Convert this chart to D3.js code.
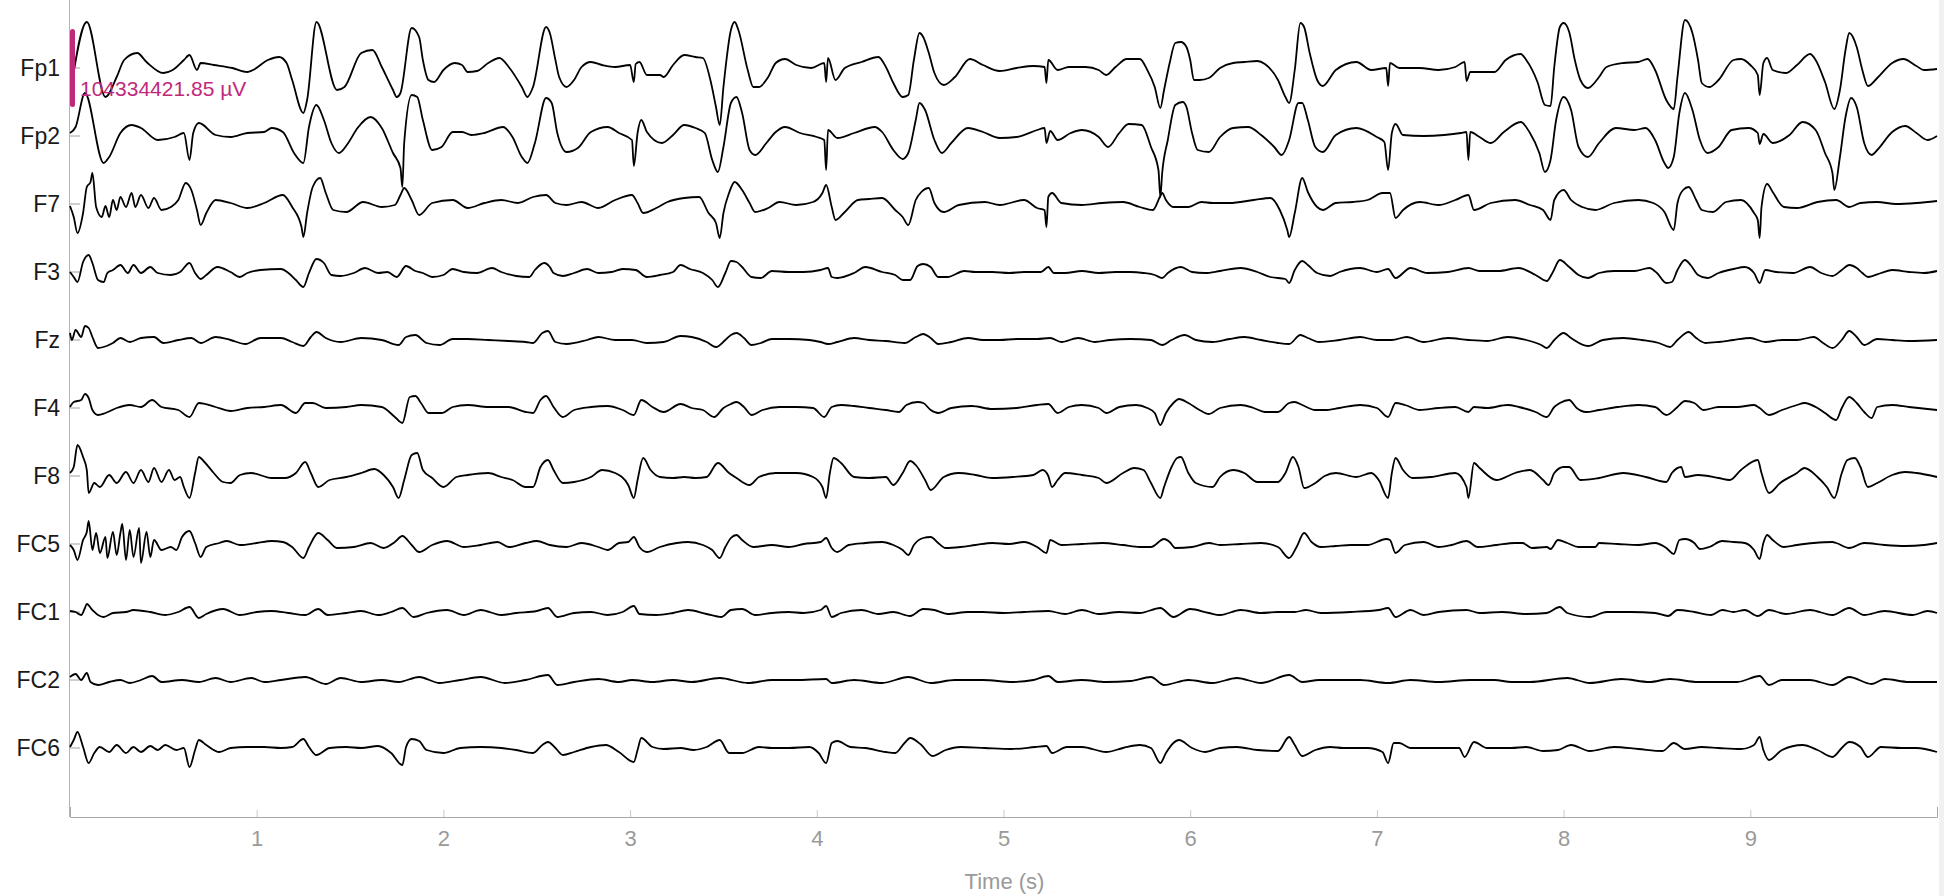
<!DOCTYPE html>
<html>
<head>
<meta charset="utf-8">
<script src="https://cdn.jsdelivr.net/npm/d3@7"></script>
<style>
  html, body { margin: 0; padding: 0; background: #fff; }
  svg { display: block; font-family: "Liberation Sans", Arial, sans-serif; }
</style>
</head>
<body>
<svg id="svg" width="1944" height="896"></svg>
<script>
// channel names, top to bottom
var channels = ["Fp1", "Fp2", "F7", "F3", "Fz", "F4", "F8", "FC5", "FC1", "FC2", "FC6"];

// time axis ticks (s)
var timeTicks = [1, 2, 3, 4, 5, 6, 7, 8, 9];

// scale bar value shown on the plot
var scaleBarLabel = "104334421.85 \u00b5V";
var scaleBarUnits = 78;

// samples per channel: [time (s), amplitude (display units, up positive)]
var fp1 = [[0.01,-15],[0.09,46],[0.19,-29],[0.25,-9],[0.29,8],[0.36,15],[0.41,6],[0.50,-5],[0.55,-2],[0.61,8],[0.64,13],[0.68,-2],[0.70,5],[0.77,3],[0.87,0],[0.95,-4],[0.98,-2],[1.06,8],[1.12,11],[1.16,5],[1.19,-12],[1.25,-45],[1.27,-32],[1.32,46],[1.43,-22],[1.47,-19],[1.56,15],[1.62,18],[1.67,1],[1.73,-22],[1.75,-29],[1.77,-25],[1.83,40],[1.87,31],[1.89,8],[1.92,-12],[1.95,-14],[2.0,-2],[2.06,5],[2.10,3],[2.13,-4],[2.18,-3],[2.24,5],[2.30,10],[2.35,1],[2.42,-19],[2.45,-29],[2.48,-19],[2.55,41],[2.57,35],[2.60,8],[2.62,-9],[2.66,-19],[2.70,-12],[2.74,1],[2.79,6],[2.85,3],[2.92,1],[3.00,3],[3.02,-14],[3.03,4],[3.05,6],[3.09,-7],[3.16,-7],[3.18,-9],[3.23,3],[3.29,13],[3.35,11],[3.39,10],[3.43,-12],[3.46,-39],[3.48,-57],[3.50,-19],[3.54,38],[3.56,46],[3.58,38],[3.63,-2],[3.66,-19],[3.69,-19],[3.74,-9],[3.78,5],[3.83,9],[3.89,3],[3.97,0],[4.04,5],[4.05,-14],[4.06,10],[4.10,-12],[4.15,0],[4.24,6],[4.33,11],[4.37,1],[4.41,-15],[4.46,-29],[4.49,-27],[4.52,8],[4.55,35],[4.57,31],[4.60,15],[4.63,-5],[4.68,-17],[4.74,-9],[4.82,9],[4.89,3],[4.98,-3],[5.07,0],[5.16,2],[5.22,1],[5.23,-15],[5.24,8],[5.29,-2],[5.35,1],[5.44,1],[5.51,-2],[5.55,-7],[5.60,1],[5.66,9],[5.73,9],[5.77,-2],[5.81,-19],[5.84,-40],[5.86,-22],[5.89,5],[5.92,25],[5.95,26],[5.98,21],[6.00,8],[6.02,-12],[6.05,-12],[6.10,-10],[6.16,0],[6.23,5],[6.29,6],[6.36,7],[6.40,4],[6.47,-12],[6.51,-29],[6.53,-35],[6.56,-2],[6.59,45],[6.61,41],[6.64,15],[6.68,-12],[6.71,-18],[6.78,-2],[6.89,6],[6.97,-2],[7.05,0],[7.06,-18],[7.07,5],[7.12,0],[7.23,0],[7.33,-2],[7.42,1],[7.47,6],[7.48,-13],[7.50,-4],[7.63,-4],[7.69,8],[7.77,14],[7.80,8],[7.86,-14],[7.90,-37],[7.93,-38],[7.95,1],[7.98,41],[8.00,45],[8.03,36],[8.06,8],[8.09,-12],[8.13,-20],[8.19,-9],[8.23,1],[8.32,5],[8.40,6],[8.45,9],[8.49,-2],[8.55,-32],[8.59,-41],[8.61,-9],[8.65,48],[8.69,35],[8.72,8],[8.74,-15],[8.78,-19],[8.83,-12],[8.91,8],[8.95,9],[9.00,3],[9.04,-7],[9.05,-27],[9.07,5],[9.09,10],[9.12,-2],[9.19,-5],[9.25,3],[9.32,14],[9.35,8],[9.40,-14],[9.45,-41],[9.48,-22],[9.51,18],[9.53,35],[9.57,21],[9.60,-2],[9.63,-18],[9.68,-10],[9.76,5],[9.82,9],[9.89,2],[9.93,-2],[10.0,-1]];

var fp2 = [[0.0,3],[0.03,9],[0.08,43],[0.18,-27],[0.21,-21],[0.27,3],[0.33,11],[0.38,8],[0.47,-4],[0.56,-1],[0.61,3],[0.64,-24],[0.66,3],[0.69,13],[0.78,1],[0.86,-1],[0.95,3],[1.04,4],[1.08,8],[1.14,4],[1.20,-17],[1.25,-27],[1.28,9],[1.32,31],[1.36,16],[1.40,-7],[1.44,-17],[1.49,-7],[1.54,8],[1.61,19],[1.67,8],[1.73,-17],[1.77,-32],[1.78,-51],[1.79,-7],[1.83,41],[1.86,39],[1.89,16],[1.94,-14],[1.99,-11],[2.05,4],[2.10,4],[2.15,1],[2.22,3],[2.32,9],[2.37,-1],[2.42,-21],[2.45,-27],[2.49,-7],[2.55,38],[2.58,33],[2.61,3],[2.66,-16],[2.72,-12],[2.79,4],[2.88,9],[2.94,3],[3.01,-4],[3.02,-30],[3.04,3],[3.06,16],[3.09,4],[3.17,-7],[3.23,1],[3.29,11],[3.35,8],[3.40,3],[3.44,-24],[3.47,-36],[3.50,-11],[3.54,33],[3.57,39],[3.60,23],[3.64,-14],[3.67,-19],[3.73,-7],[3.78,4],[3.83,9],[3.91,3],[4.00,-1],[4.04,-4],[4.05,-34],[4.06,6],[4.11,-2],[4.20,3],[4.31,9],[4.35,4],[4.41,-14],[4.46,-23],[4.49,-17],[4.53,16],[4.55,33],[4.58,26],[4.63,-4],[4.67,-17],[4.72,-7],[4.81,8],[4.89,4],[4.98,-2],[5.07,-1],[5.18,6],[5.22,8],[5.23,-7],[5.25,5],[5.29,-4],[5.36,3],[5.42,6],[5.51,-1],[5.56,-11],[5.62,3],[5.67,12],[5.74,11],[5.79,-11],[5.83,-34],[5.84,-61],[5.85,-37],[5.88,-4],[5.92,31],[5.96,34],[5.98,29],[6.01,3],[6.04,-14],[6.10,-16],[6.16,-1],[6.23,8],[6.31,9],[6.38,1],[6.45,-11],[6.49,-19],[6.53,-4],[6.58,33],[6.60,33],[6.63,16],[6.67,-11],[6.71,-16],[6.78,1],[6.89,8],[7.00,-1],[7.04,-6],[7.06,-34],[7.08,3],[7.10,12],[7.14,1],[7.25,0],[7.36,1],[7.45,3],[7.48,4],[7.49,-24],[7.50,4],[7.55,-1],[7.61,-7],[7.68,4],[7.77,14],[7.82,3],[7.87,-17],[7.90,-36],[7.93,-24],[7.96,16],[8.00,39],[8.04,26],[8.08,-11],[8.13,-21],[8.19,-7],[8.28,8],[8.38,6],[8.44,8],[8.49,-4],[8.54,-27],[8.56,-32],[8.59,-21],[8.62,23],[8.65,43],[8.69,26],[8.73,-4],[8.77,-17],[8.83,-11],[8.90,6],[8.99,8],[9.04,3],[9.05,-8],[9.07,2],[9.12,-7],[9.21,1],[9.28,14],[9.35,6],[9.40,-17],[9.44,-37],[9.45,-54],[9.48,-21],[9.51,19],[9.54,38],[9.57,29],[9.61,-7],[9.65,-19],[9.68,-14],[9.76,4],[9.83,10],[9.89,3],[9.95,-4],[10.0,0]];

var f7 = [[0.0,-2],[0.02,-13],[0.04,-29],[0.07,-9],[0.09,17],[0.11,22],[0.12,31],[0.14,-3],[0.17,-13],[0.19,-2],[0.21,-13],[0.23,4],[0.25,-6],[0.27,7],[0.30,-3],[0.33,11],[0.35,-3],[0.38,9],[0.42,-4],[0.45,6],[0.49,-6],[0.54,-3],[0.58,4],[0.62,21],[0.65,14],[0.68,-6],[0.70,-21],[0.73,-9],[0.78,4],[0.86,1],[0.95,-4],[1.04,1],[1.14,9],[1.19,-3],[1.24,-23],[1.25,-33],[1.27,-9],[1.30,17],[1.34,26],[1.37,11],[1.41,-6],[1.48,-8],[1.57,2],[1.67,-3],[1.74,-1],[1.77,9],[1.79,16],[1.83,4],[1.87,-11],[1.94,1],[2.05,4],[2.13,-4],[2.22,1],[2.31,4],[2.40,1],[2.48,7],[2.55,9],[2.60,1],[2.66,-1],[2.74,2],[2.83,-4],[2.92,4],[3.01,9],[3.04,1],[3.07,-9],[3.14,-4],[3.20,2],[3.29,6],[3.37,7],[3.42,-9],[3.46,-19],[3.48,-34],[3.50,-9],[3.53,11],[3.56,22],[3.60,14],[3.64,1],[3.67,-8],[3.74,-4],[3.80,2],[3.89,-1],[3.98,2],[4.03,11],[4.05,19],[4.08,-3],[4.10,-16],[4.15,-8],[4.22,4],[4.28,5],[4.35,6],[4.42,-6],[4.46,-13],[4.49,-21],[4.53,4],[4.56,12],[4.60,16],[4.63,1],[4.68,-8],[4.76,-1],[4.90,2],[4.98,-1],[5.11,4],[5.18,-4],[5.22,-6],[5.23,-23],[5.24,7],[5.26,11],[5.31,1],[5.42,-1],[5.53,1],[5.64,2],[5.73,-3],[5.80,-6],[5.84,8],[5.85,11],[5.87,4],[5.91,-3],[5.99,-3],[6.06,2],[6.12,1],[6.21,1],[6.34,4],[6.43,6],[6.48,-6],[6.52,-26],[6.53,-33],[6.56,-9],[6.60,26],[6.63,12],[6.68,-3],[6.71,-6],[6.78,1],[6.87,2],[6.95,4],[7.03,11],[7.07,11],[7.10,-14],[7.14,-6],[7.23,2],[7.33,-1],[7.42,4],[7.49,9],[7.52,-6],[7.61,1],[7.74,4],[7.82,-1],[7.89,-6],[7.93,-16],[7.95,4],[8.00,14],[8.04,4],[8.10,-3],[8.17,-6],[8.27,1],[8.40,4],[8.48,1],[8.54,-8],[8.59,-26],[8.61,1],[8.64,14],[8.67,17],[8.71,4],[8.74,-6],[8.80,-8],[8.87,2],[8.95,4],[9.02,-9],[9.04,-16],[9.05,-34],[9.06,-3],[9.09,20],[9.12,12],[9.18,-3],[9.25,-4],[9.36,2],[9.46,4],[9.53,-3],[9.59,1],[9.68,2],[9.78,0],[9.89,1],[10.0,3]];

var f3 = [[0.0,0],[0.02,-5],[0.04,-10],[0.07,10],[0.10,17],[0.12,9],[0.15,-8],[0.18,-10],[0.20,-1],[0.23,2],[0.27,7],[0.31,-1],[0.34,7],[0.38,-1],[0.43,5],[0.47,-1],[0.54,-3],[0.59,0],[0.64,9],[0.67,-1],[0.70,-7],[0.73,-3],[0.79,5],[0.86,0],[0.91,-5],[0.95,-1],[1.02,2],[1.13,3],[1.17,-1],[1.21,-8],[1.25,-15],[1.28,-1],[1.32,13],[1.36,9],[1.40,-3],[1.45,-4],[1.52,-1],[1.58,4],[1.65,-1],[1.70,0],[1.75,-5],[1.80,6],[1.85,1],[1.89,-1],[1.94,-5],[2.00,-3],[2.05,3],[2.11,0],[2.18,-1],[2.26,4],[2.31,0],[2.39,-4],[2.46,-5],[2.49,2],[2.54,9],[2.57,5],[2.59,-1],[2.64,-4],[2.70,-1],[2.77,3],[2.83,-1],[2.90,0],[2.96,3],[3.03,2],[3.09,-5],[3.16,-3],[3.23,0],[3.27,7],[3.32,3],[3.39,-1],[3.44,-8],[3.47,-15],[3.51,-1],[3.54,11],[3.57,10],[3.60,5],[3.65,-5],[3.70,-6],[3.76,1],[3.85,0],[3.93,0],[4.02,2],[4.06,4],[4.08,-5],[4.11,-6],[4.20,-1],[4.26,5],[4.35,0],[4.42,-3],[4.46,-8],[4.50,-8],[4.54,6],[4.57,8],[4.61,5],[4.65,-5],[4.70,-5],[4.79,1],[4.85,0],[4.94,0],[5.03,-1],[5.11,0],[5.20,0],[5.24,5],[5.27,-1],[5.33,-1],[5.42,1],[5.51,-1],[5.60,0],[5.68,0],[5.75,-1],[5.81,-3],[5.85,-6],[5.88,-1],[5.95,5],[6.01,0],[6.08,-1],[6.16,1],[6.27,4],[6.36,0],[6.43,-5],[6.51,-7],[6.53,-11],[6.56,2],[6.60,11],[6.63,7],[6.68,-1],[6.75,-4],[6.80,0],[6.91,4],[7.00,0],[7.06,3],[7.10,-6],[7.18,4],[7.27,-1],[7.38,0],[7.49,4],[7.55,1],[7.65,1],[7.76,4],[7.85,-3],[7.91,-9],[7.94,-1],[7.98,12],[8.03,5],[8.08,-3],[8.13,-6],[8.19,-1],[8.27,1],[8.38,1],[8.46,4],[8.50,-1],[8.55,-11],[8.58,-10],[8.61,2],[8.65,12],[8.68,7],[8.72,-3],[8.77,-6],[8.83,-1],[8.91,3],[8.97,5],[9.02,-1],[9.05,-11],[9.08,2],[9.14,0],[9.23,-1],[9.32,5],[9.38,-1],[9.44,-4],[9.49,2],[9.53,7],[9.57,4],[9.60,-1],[9.63,-5],[9.70,-1],[9.76,2],[9.85,0],[9.93,-1],[10.0,1]];

var fz = [[0.0,7],[0.01,0],[0.03,10],[0.06,3],[0.08,14],[0.10,12],[0.12,3],[0.15,-8],[0.18,-7],[0.23,-3],[0.27,2],[0.32,-2],[0.38,2],[0.45,3],[0.50,-3],[0.58,0],[0.65,2],[0.70,-3],[0.78,3],[0.86,0],[0.94,-4],[1.02,2],[1.13,2],[1.19,-2],[1.25,-6],[1.29,3],[1.32,8],[1.37,2],[1.45,-2],[1.56,2],[1.67,0],[1.76,-5],[1.80,3],[1.85,5],[1.91,-3],[1.98,-5],[2.05,1],[2.13,1],[2.24,0],[2.35,-1],[2.44,-2],[2.48,-3],[2.53,7],[2.56,9],[2.60,-2],[2.66,-4],[2.77,0],[2.83,3],[2.92,0],[3.01,0],[3.09,-3],[3.18,-2],[3.27,4],[3.33,3],[3.41,-2],[3.46,-7],[3.51,0],[3.54,5],[3.57,7],[3.61,2],[3.65,-5],[3.70,-3],[3.76,1],[3.85,1],[3.96,0],[4.02,-2],[4.06,-4],[4.11,-2],[4.20,2],[4.28,0],[4.37,-1],[4.47,-3],[4.53,3],[4.57,6],[4.61,2],[4.65,-4],[4.72,-2],[4.81,2],[4.89,0],[4.98,0],[5.07,1],[5.18,1],[5.25,2],[5.31,-2],[5.40,2],[5.49,-2],[5.57,0],[5.68,1],[5.79,0],[5.85,-5],[5.90,0],[5.97,5],[6.03,0],[6.12,-2],[6.21,1],[6.29,3],[6.38,0],[6.47,-3],[6.53,-4],[6.59,5],[6.63,2],[6.69,-2],[6.80,0],[6.91,3],[7.00,0],[7.08,0],[7.16,3],[7.25,-2],[7.38,2],[7.49,0],[7.59,-1],[7.70,3],[7.80,0],[7.88,-5],[7.91,-8],[7.95,0],[8.00,7],[8.04,2],[8.13,-6],[8.21,0],[8.32,2],[8.42,0],[8.51,-3],[8.57,-7],[8.61,0],[8.67,8],[8.71,2],[8.76,-3],[8.83,-2],[8.91,0],[9.00,2],[9.08,-2],[9.17,0],[9.25,0],[9.34,3],[9.39,-3],[9.44,-8],[9.49,0],[9.53,9],[9.57,3],[9.61,-5],[9.68,1],[9.76,0],[9.85,-1],[10.0,0]];

var f4 = [[0.0,1],[0.02,6],[0.06,8],[0.08,14],[0.10,10],[0.12,-2],[0.15,-7],[0.19,-5],[0.25,0],[0.32,3],[0.38,1],[0.44,8],[0.49,1],[0.58,-2],[0.64,-9],[0.69,5],[0.78,1],[0.86,-3],[0.95,0],[1.04,1],[1.13,3],[1.21,-5],[1.26,5],[1.30,5],[1.37,0],[1.48,1],[1.56,3],[1.67,1],[1.74,-9],[1.78,-15],[1.82,11],[1.85,12],[1.88,5],[1.92,-5],[1.99,-5],[2.05,1],[2.13,3],[2.24,1],[2.35,1],[2.44,-4],[2.48,-5],[2.52,8],[2.55,12],[2.59,1],[2.64,-9],[2.70,-2],[2.79,1],[2.88,2],[2.96,-2],[3.02,-7],[3.06,8],[3.12,1],[3.18,-4],[3.27,4],[3.33,0],[3.39,-2],[3.45,-9],[3.50,0],[3.54,4],[3.57,6],[3.61,1],[3.65,-7],[3.71,-2],[3.80,1],[3.89,1],[3.98,0],[4.04,-9],[4.08,1],[4.13,3],[4.20,2],[4.28,0],[4.37,-2],[4.44,-4],[4.48,3],[4.54,6],[4.57,5],[4.61,-2],[4.65,-5],[4.72,0],[4.83,2],[4.94,-1],[5.07,0],[5.18,3],[5.24,4],[5.29,-5],[5.35,1],[5.42,3],[5.51,0],[5.55,-5],[5.62,1],[5.71,3],[5.77,0],[5.81,-5],[5.84,-17],[5.87,-5],[5.91,5],[5.94,9],[5.99,5],[6.05,-2],[6.10,-6],[6.16,0],[6.27,3],[6.34,0],[6.40,-4],[6.47,-4],[6.53,5],[6.56,6],[6.60,3],[6.67,-2],[6.72,-2],[6.80,0],[6.91,3],[7.00,0],[7.06,-9],[7.10,5],[7.15,3],[7.23,-2],[7.33,0],[7.42,1],[7.49,-4],[7.52,1],[7.59,0],[7.70,3],[7.76,1],[7.85,-4],[7.91,-9],[7.95,1],[7.98,5],[8.03,8],[8.07,0],[8.12,-4],[8.19,-2],[8.29,1],[8.40,3],[8.49,1],[8.55,-7],[8.61,1],[8.65,7],[8.70,5],[8.75,-2],[8.83,1],[8.93,1],[9.02,3],[9.05,0],[9.10,-7],[9.17,-2],[9.25,3],[9.29,5],[9.36,0],[9.40,-5],[9.46,-12],[9.49,0],[9.53,11],[9.57,5],[9.61,-4],[9.65,-10],[9.68,1],[9.76,3],[9.85,1],[10.0,-2]];

var f8 = [[0.0,3],[0.02,9],[0.04,31],[0.07,19],[0.09,6],[0.10,-17],[0.13,-7],[0.16,-11],[0.21,1],[0.25,-7],[0.30,4],[0.34,-7],[0.38,6],[0.42,-6],[0.45,8],[0.49,-6],[0.53,6],[0.56,-4],[0.59,-1],[0.61,-11],[0.64,-22],[0.67,3],[0.69,19],[0.72,14],[0.77,3],[0.82,-6],[0.86,-7],[0.91,1],[0.97,3],[1.08,-2],[1.15,-2],[1.21,3],[1.26,14],[1.29,3],[1.33,-11],[1.39,-4],[1.48,-1],[1.56,3],[1.63,7],[1.68,1],[1.73,-11],[1.76,-22],[1.79,-4],[1.83,21],[1.86,23],[1.89,6],[1.94,-2],[2.00,-11],[2.07,-1],[2.13,1],[2.24,3],[2.31,-1],[2.37,-4],[2.44,-11],[2.48,-11],[2.52,9],[2.56,16],[2.59,6],[2.64,-7],[2.70,-6],[2.79,-1],[2.85,6],[2.92,3],[2.99,-9],[3.02,-22],[3.04,-4],[3.07,18],[3.11,6],[3.16,-1],[3.23,-2],[3.29,-1],[3.35,-2],[3.41,-1],[3.47,13],[3.53,3],[3.57,-2],[3.64,-9],[3.69,-1],[3.78,3],[3.89,3],[3.98,-1],[4.03,-11],[4.05,-22],[4.07,3],[4.09,18],[4.13,13],[4.20,-1],[4.28,-2],[4.37,-1],[4.41,-9],[4.46,3],[4.50,15],[4.53,11],[4.58,-4],[4.61,-14],[4.68,-1],[4.76,3],[4.85,1],[4.94,-2],[5.05,-1],[5.16,1],[5.21,6],[5.24,0],[5.26,-11],[5.29,-4],[5.33,3],[5.42,1],[5.51,-2],[5.55,-7],[5.64,3],[5.70,8],[5.75,6],[5.79,-7],[5.84,-22],[5.86,-11],[5.90,9],[5.93,18],[5.95,19],[5.99,3],[6.03,-7],[6.12,-11],[6.16,-1],[6.23,6],[6.29,3],[6.36,-6],[6.47,-6],[6.51,3],[6.55,19],[6.58,9],[6.61,-12],[6.67,-7],[6.72,0],[6.78,3],[6.89,-1],[6.97,3],[7.01,-4],[7.06,-22],[7.08,3],[7.10,18],[7.14,6],[7.19,-2],[7.29,-1],[7.42,3],[7.48,-11],[7.49,-22],[7.52,13],[7.55,8],[7.64,-4],[7.74,3],[7.82,6],[7.89,-4],[7.92,-9],[7.95,3],[8.00,9],[8.03,9],[8.09,-4],[8.19,-2],[8.32,3],[8.44,-1],[8.55,-6],[8.58,3],[8.63,9],[8.65,-1],[8.72,1],[8.83,-2],[8.89,-4],[8.95,6],[9.04,16],[9.06,3],[9.10,-17],[9.16,-7],[9.25,3],[9.29,8],[9.36,-1],[9.41,-11],[9.45,-22],[9.49,3],[9.52,16],[9.56,18],[9.59,9],[9.63,-11],[9.68,-7],[9.76,1],[9.83,4],[9.89,3],[10.0,-1]];

var fc5 = [[0.0,-1],[0.02,-6],[0.04,-16],[0.07,4],[0.09,12],[0.10,23],[0.12,-6],[0.14,11],[0.16,-9],[0.19,7],[0.20,-14],[0.23,12],[0.25,-11],[0.27,11],[0.28,20],[0.30,-16],[0.32,14],[0.34,-13],[0.37,16],[0.38,-19],[0.41,12],[0.43,-13],[0.45,4],[0.49,-6],[0.54,-3],[0.57,-6],[0.60,7],[0.64,13],[0.67,1],[0.70,-13],[0.73,-3],[0.80,1],[0.84,3],[0.91,-1],[1.00,1],[1.08,3],[1.14,2],[1.19,-3],[1.25,-14],[1.28,-3],[1.33,11],[1.38,4],[1.43,-4],[1.52,-3],[1.61,1],[1.68,-4],[1.74,2],[1.78,8],[1.83,-1],[1.87,-8],[1.94,-1],[2.02,3],[2.11,-3],[2.20,-1],[2.29,2],[2.35,-3],[2.44,1],[2.50,3],[2.57,-1],[2.66,-3],[2.74,1],[2.83,-3],[2.88,-6],[2.94,1],[2.99,2],[3.02,7],[3.05,-3],[3.09,-8],[3.16,-3],[3.25,1],[3.31,2],[3.39,-1],[3.44,-6],[3.48,-14],[3.51,-3],[3.54,6],[3.57,9],[3.60,4],[3.66,-3],[3.76,-1],[3.85,-3],[3.93,0],[4.02,2],[4.05,6],[4.08,-4],[4.11,-8],[4.17,-1],[4.26,1],[4.35,2],[4.41,-1],[4.46,-6],[4.49,-11],[4.52,-1],[4.57,6],[4.61,7],[4.65,1],[4.69,-4],[4.77,-3],[4.85,-1],[4.94,1],[5.03,0],[5.11,2],[5.18,-3],[5.23,-9],[5.25,4],[5.31,-1],[5.42,0],[5.53,1],[5.64,-1],[5.73,-3],[5.79,-3],[5.86,5],[5.89,2],[5.92,-4],[6.01,-3],[6.10,1],[6.16,-1],[6.27,0],[6.38,1],[6.47,-3],[6.53,-14],[6.57,-3],[6.61,11],[6.65,2],[6.70,-3],[6.78,-2],[6.86,-1],[6.95,-1],[7.05,5],[7.07,4],[7.10,-9],[7.15,-1],[7.25,2],[7.33,-3],[7.40,-1],[7.48,3],[7.54,-3],[7.64,-1],[7.74,1],[7.78,1],[7.83,-4],[7.91,-3],[7.93,-5],[7.97,4],[8.02,1],[8.08,-3],[8.17,-3],[8.19,1],[8.29,0],[8.40,-1],[8.49,1],[8.55,-4],[8.59,-10],[8.62,4],[8.65,5],[8.70,1],[8.73,-5],[8.78,-3],[8.85,3],[8.91,2],[8.97,1],[9.02,-6],[9.05,-15],[9.07,1],[9.09,9],[9.12,4],[9.18,-3],[9.25,-1],[9.34,1],[9.44,2],[9.46,1],[9.53,-4],[9.61,1],[9.72,-1],[9.83,-2],[9.93,-1],[10.0,1]];

var fc1 = [[0.0,1],[0.03,0],[0.06,-3],[0.08,4],[0.09,8],[0.12,2],[0.15,-3],[0.18,-5],[0.23,-1],[0.30,0],[0.34,2],[0.43,0],[0.51,-3],[0.58,0],[0.64,5],[0.69,-6],[0.73,-2],[0.82,3],[0.91,-3],[1.00,0],[1.08,1],[1.17,-1],[1.26,-3],[1.33,3],[1.38,-3],[1.48,-1],[1.56,1],[1.65,-3],[1.72,0],[1.78,4],[1.84,-5],[1.91,-1],[2.02,2],[2.11,-3],[2.20,2],[2.31,-3],[2.39,-1],[2.50,1],[2.56,4],[2.61,-5],[2.70,-1],[2.79,0],[2.88,-3],[2.96,0],[3.02,6],[3.05,-2],[3.14,-3],[3.23,-1],[3.31,2],[3.41,-2],[3.49,-5],[3.54,2],[3.60,3],[3.67,-3],[3.76,-1],[3.85,0],[3.93,-1],[4.02,2],[4.05,6],[4.08,-5],[4.13,-1],[4.24,2],[4.33,-2],[4.41,0],[4.50,-4],[4.57,3],[4.63,2],[4.70,-2],[4.81,0],[4.89,0],[5.00,-1],[5.11,0],[5.24,1],[5.33,-2],[5.42,2],[5.51,-2],[5.62,0],[5.73,-1],[5.84,4],[5.91,-5],[6.00,3],[6.10,-1],[6.16,-3],[6.27,2],[6.38,-1],[6.47,0],[6.56,0],[6.62,2],[6.70,-1],[6.86,0],[7.01,2],[7.06,4],[7.10,-5],[7.18,2],[7.25,-3],[7.33,0],[7.48,2],[7.55,-1],[7.67,0],[7.80,-2],[7.91,-1],[7.98,5],[8.02,-1],[8.14,-5],[8.23,0],[8.36,0],[8.49,-1],[8.56,-4],[8.61,2],[8.70,0],[8.79,-3],[8.85,2],[8.91,0],[8.97,2],[9.04,-4],[9.10,2],[9.19,-2],[9.32,2],[9.44,-3],[9.53,4],[9.61,-3],[9.72,1],[9.87,-3],[9.95,1],[10.0,-1]];

var fc2 = [[0.0,3],[0.03,6],[0.06,0],[0.09,7],[0.11,-2],[0.15,-5],[0.21,-2],[0.27,0],[0.32,-3],[0.38,0],[0.44,4],[0.49,-2],[0.60,0],[0.69,-2],[0.78,2],[0.86,-2],[0.97,2],[1.04,-2],[1.13,0],[1.26,3],[1.37,-4],[1.45,2],[1.56,-2],[1.67,0],[1.76,-2],[1.87,3],[1.98,-3],[2.09,0],[2.20,3],[2.33,-3],[2.44,0],[2.56,5],[2.61,-5],[2.70,-2],[2.83,1],[2.94,-2],[3.01,0],[3.12,-2],[3.23,0],[3.33,-2],[3.48,2],[3.63,-3],[3.76,0],[3.89,0],[4.05,1],[4.08,-3],[4.20,0],[4.35,-3],[4.49,3],[4.61,-3],[4.74,0],[4.89,0],[5.05,-2],[5.16,0],[5.24,4],[5.29,-2],[5.42,0],[5.55,-2],[5.68,-1],[5.79,3],[5.86,-5],[5.99,0],[6.12,-3],[6.25,2],[6.38,-3],[6.53,5],[6.60,-2],[6.69,0],[6.91,0],[7.06,-3],[7.18,0],[7.33,-2],[7.50,0],[7.63,0],[7.72,-2],[7.82,-2],[8.02,2],[8.14,-3],[8.31,1],[8.46,-2],[8.57,1],[8.72,-2],[8.93,-2],[9.05,4],[9.10,-5],[9.17,0],[9.32,0],[9.44,-5],[9.53,3],[9.65,-4],[9.72,1],[9.85,-2],[10.0,-2]];

var fc6 = [[0.0,1],[0.02,8],[0.04,16],[0.07,1],[0.10,-15],[0.13,-5],[0.16,1],[0.21,-4],[0.25,3],[0.30,-5],[0.34,1],[0.38,-4],[0.43,2],[0.47,-2],[0.51,3],[0.57,-2],[0.61,0],[0.64,-19],[0.67,-2],[0.69,8],[0.73,3],[0.80,-4],[0.86,0],[0.95,1],[1.04,1],[1.13,0],[1.19,1],[1.25,9],[1.28,1],[1.32,-7],[1.39,0],[1.48,1],[1.56,0],[1.65,2],[1.72,-5],[1.78,-17],[1.80,1],[1.83,9],[1.87,7],[1.91,-2],[2.00,-5],[2.09,0],[2.20,1],[2.31,0],[2.39,-2],[2.48,-5],[2.53,3],[2.56,6],[2.60,0],[2.64,-7],[2.70,-4],[2.79,1],[2.87,3],[2.94,-4],[3.02,-14],[3.04,-2],[3.06,10],[3.12,1],[3.18,-1],[3.27,0],[3.34,-2],[3.41,1],[3.48,8],[3.53,-5],[3.60,-5],[3.69,1],[3.76,0],[3.85,0],[3.96,1],[4.01,-5],[4.05,-15],[4.08,5],[4.11,7],[4.18,1],[4.26,0],[4.37,-4],[4.42,-5],[4.47,5],[4.50,10],[4.56,3],[4.62,-8],[4.69,-2],[4.77,1],[4.90,0],[5.04,-1],[5.17,1],[5.23,2],[5.26,-5],[5.34,1],[5.42,1],[5.55,-4],[5.64,0],[5.73,3],[5.79,0],[5.84,-15],[5.87,-5],[5.91,5],[5.94,8],[6.01,0],[6.08,-4],[6.16,0],[6.25,1],[6.36,-2],[6.47,-3],[6.53,11],[6.56,3],[6.60,-8],[6.67,-2],[6.75,1],[6.82,0],[6.95,0],[7.03,-4],[7.06,-15],[7.09,5],[7.12,5],[7.18,0],[7.31,0],[7.44,0],[7.47,-9],[7.52,6],[7.59,0],[7.72,0],[7.80,1],[7.89,-3],[7.97,-2],[8.04,3],[8.14,-3],[8.27,1],[8.40,-1],[8.53,-3],[8.59,5],[8.65,-1],[8.74,1],[8.83,0],[8.95,-1],[9.02,3],[9.05,11],[9.07,-2],[9.10,-12],[9.17,-2],[9.28,3],[9.36,-2],[9.44,-9],[9.49,0],[9.53,6],[9.59,1],[9.63,-9],[9.70,1],[9.81,0],[9.89,0],[10.0,-4]];

var series = [fp1, fp2, f7, f3, fz, f4, f8, fc5, fc1, fc2, fc6];

// layout
var svg = d3.select("#svg"),
    width = +svg.attr("width"),
    height = +svg.attr("height");

var left = 70, right = 1937, axisY = 817;

var x = d3.scaleLinear().domain([0, 10]).range([left, right]);
// channel i sits on row i+1 of 12 equal rows above the axis
var row = d3.scaleLinear().domain([-1, 11]).range([0, axisY - 1]);
var amp = d3.scaleLinear().domain([-100, 100]).range([100, -100]);

svg.append("rect").attr("width", width).attr("height", height).attr("fill", "#fff");

// faint strip at the right edge
svg.append("rect")
    .attr("x", right + 2).attr("y", 0)
    .attr("width", width - right - 2).attr("height", height)
    .attr("fill", "#f1f1f1");

// left axis line
svg.append("line")
    .attr("x1", left - 0.5).attr("x2", left - 0.5)
    .attr("y1", 0).attr("y2", axisY)
    .attr("stroke", "#b3b3b3").attr("stroke-width", 1);

// channel labels and baseline ticks
var labels = svg.append("g").attr("class", "labels");
channels.forEach(function(name, i) {
  var y0 = row(i);
  labels.append("line")
      .attr("x1", left).attr("x2", left + 10)
      .attr("y1", y0).attr("y2", y0)
      .attr("stroke", "#a0a0a0").attr("stroke-width", 1);
  labels.append("text")
      .attr("x", 60).attr("y", y0)
      .attr("dy", "0.36em")
      .attr("text-anchor", "end")
      .attr("font-size", 23)
      .attr("fill", "#1a1a1a")
      .text(name);
});

// traces
var traces = svg.append("g").attr("class", "traces");
series.forEach(function(data, i) {
  var y0 = row(i);
  var line = d3.line()
      .curve(d3.curveMonotoneX)
      .x(function(d) { return x(d[0]); })
      .y(function(d) { return y0 + amp(d[1]); });
  traces.append("path")
      .datum(data)
      .attr("d", line)
      .attr("fill", "none")
      .attr("stroke", "#000")
      .attr("stroke-width", 1.8)
      .attr("stroke-linejoin", "round");
});

// scale bar
var bar = amp(0) - amp(scaleBarUnits);
svg.append("rect")
    .attr("x", left).attr("y", row(0) - 39)
    .attr("width", 5).attr("height", bar)
    .attr("rx", 2.5)
    .attr("fill", "#c0297b");
svg.append("text")
    .attr("x", left + 10).attr("y", row(0) + 28)
    .attr("font-size", 21)
    .attr("fill", "#c0297b")
    .text(scaleBarLabel);

// time axis
var xAxis = d3.axisBottom(x)
    .tickValues(timeTicks)
    .tickFormat(d3.format("d"))
    .tickSizeInner(-7)
    .tickSizeOuter(-10)
    .tickPadding(13);

var gx = svg.append("g")
    .attr("transform", "translate(0," + axisY + ")")
    .call(xAxis);
gx.select(".domain").attr("stroke", "#a8a8a8");
gx.selectAll(".tick line").attr("stroke", "#c8c8c8");
gx.selectAll(".tick text")
    .attr("font-size", 22)
    .attr("font-family", "Liberation Sans, Arial, sans-serif")
    .attr("fill", "#9a9a9a");

svg.append("text")
    .attr("x", (left + right) / 2 + 1)
    .attr("y", 889)
    .attr("text-anchor", "middle")
    .attr("font-size", 22)
    .attr("fill", "#9a9a9a")
    .text("Time (s)");
</script>
</body>
</html>
